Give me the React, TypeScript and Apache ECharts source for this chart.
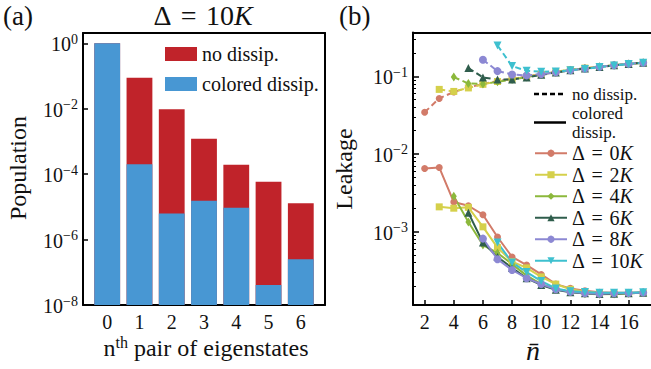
import React, { useEffect, useRef } from 'react';
import * as echarts from 'echarts';

const FONT = '"Liberation Serif", "Times New Roman", serif';
const INK = '#111';

// ---------- Panel (a): populations ----------
const pairIndex = [0, 1, 2, 3, 4, 5, 6];
const populationNoDissip = [1.0, 0.089, 0.0096, 0.0012, 0.000195, 0.000059, 0.000013];
const populationColoredDissip = [1.0, 0.0002, 0.0000063, 0.0000155, 0.0000094, 0.000000041, 0.00000025];
const pairTickValues = [0, 1, 2, 3, 4, 5, 6];
const popTickValues = [1, 1e-2, 1e-4, 1e-6, 1e-8];

// ---------- Panel (b): leakage ----------
const nBar = [2, 3, 4, 5, 6, 7, 8, 9, 10, 11, 12, 13, 14, 15, 16, 17];
const nTickValues = [2, 4, 6, 8, 10, 12, 14, 16];
const leakTickValues = [1e-3, 1e-2, 1e-1];
const leakMinorTickValues = [
  2e-4, 3e-4, 4e-4, 5e-4, 6e-4, 7e-4, 8e-4, 9e-4,
  2e-3, 3e-3, 4e-3, 5e-3, 6e-3, 7e-3, 8e-3, 9e-3,
  2e-2, 3e-2, 4e-2, 5e-2, 6e-2, 7e-2, 8e-2, 9e-2,
  2e-1, 3e-1,
];
const deltaValues = [0, 2, 4, 6, 8, 10];

// no dissipation (dashed)
const leakNoDissip0 = [0.0345, 0.052, 0.063, 0.072, 0.080, 0.087, 0.093, 0.100, 0.107, 0.114, 0.121, 0.127, 0.133, 0.139, 0.145, 0.150];
const leakNoDissip2 = [null, 0.068, 0.064, 0.071, 0.079, 0.086, 0.093, 0.099, 0.106, 0.115, 0.122, 0.128, 0.133, 0.139, 0.145, 0.150];
const leakNoDissip4 = [null, null, 0.098, 0.081, 0.080, 0.085, 0.091, 0.098, 0.106, 0.113, 0.120, 0.126, 0.133, 0.139, 0.145, 0.150];
const leakNoDissip6 = [null, null, null, 0.128, 0.097, 0.091, 0.091, 0.097, 0.105, 0.112, 0.120, 0.126, 0.132, 0.139, 0.145, 0.150];
const leakNoDissip8 = [null, null, null, null, 0.164, 0.117, 0.106, 0.103, 0.107, 0.113, 0.120, 0.126, 0.133, 0.139, 0.145, 0.150];
const leakNoDissip10 = [null, null, null, null, null, 0.25, 0.136, 0.118, 0.115, 0.116, 0.120, 0.125, 0.132, 0.138, 0.144, 0.150];

// colored dissipation (solid)
const leakColored0 = [0.0065, 0.0067, 0.0024, 0.00215, 0.00165, 0.00085, 0.00047, 0.00037, 0.00028, 0.00021, 0.000185, 0.000172, 0.000165, 0.000163, 0.000163, 0.000165];
const leakColored2 = [null, 0.00208, 0.0020, 0.00205, 0.00115, 0.00062, 0.00041, 0.00034, 0.00026, 0.00021, 0.00018, 0.000168, 0.000162, 0.00016, 0.00016, 0.000162];
const leakColored4 = [null, null, 0.00285, 0.00133, 0.00067, 0.00053, 0.00038, 0.00027, 0.00021, 0.00018, 0.000168, 0.000158, 0.000155, 0.000157, 0.00016, 0.000162];
const leakColored6 = [null, null, null, 0.00175, 0.00072, 0.00047, 0.00034, 0.00025, 0.000205, 0.000178, 0.000165, 0.00016, 0.000157, 0.000158, 0.00016, 0.000162];
const leakColored8 = [null, null, null, null, 0.00081, 0.00044, 0.00032, 0.00025, 0.00021, 0.00018, 0.000167, 0.00016, 0.000158, 0.00016, 0.000161, 0.000163];
const leakColored10 = [null, null, null, null, null, 0.00072, 0.00040, 0.00030, 0.00023, 0.000185, 0.00017, 0.000166, 0.000163, 0.000163, 0.000163, 0.000165];

const leakNoDissip = [leakNoDissip0, leakNoDissip2, leakNoDissip4, leakNoDissip6, leakNoDissip8, leakNoDissip10];
const leakColored = [leakColored0, leakColored2, leakColored4, leakColored6, leakColored8, leakColored10];

const RED = '#c0232a';
const BLUE = '#4897d3';
const deltaColors = ['#d27b69', '#d5d04b', '#8cb83c', '#2f5d4c', '#8c88d3', '#3ec0cf'];
const deltaSymbols = ['circle', 'rect', 'diamond', 'triangle', 'circle', 'triangle'];
const deltaSymbolRotate = [0, 0, 0, 0, 0, 180];
const deltaSymbolSize: any[] = [7, 7, [6, 9], 8, 8, 8];

const SP = '\u2004';
const supText = (e: number) => (e < 0 ? '\u2212' + -e : String(e));
const sciLabel = (v: number) => `{b|10}{s|${supText(Math.round(Math.log10(v)))}}`;
const sciRich = {
  b: { fontSize: 20, fontFamily: FONT, color: INK, lineHeight: 22, verticalAlign: 'bottom' },
  s: { fontSize: 14, fontFamily: FONT, color: INK, lineHeight: 10, verticalAlign: 'top' },
};

const deltaName = (d: number) => `Δ = ${d}K`;

const frameLine = { show: true, onZero: false, lineStyle: { color: '#000', width: 2 } };

export default function App() {
  const ref = useRef<HTMLDivElement>(null);

  useEffect(() => {
    const chart = echarts.init(ref.current!, null, { renderer: 'svg' });

    const barSeries = (name: string, values: number[], color: string, z: number) => ({
      type: 'custom',
      name,
      xAxisIndex: 0,
      yAxisIndex: 0,
      z,
      itemStyle: { color },
      data: pairIndex.map((x, i) => [x, values[i]]),
      renderItem: (params: any, api: any) => {
        const x = api.value(0);
        const y = api.value(1);
        const top = api.coord([x, y]);
        const base = api.coord([x, 1e-8]);
        const left = api.coord([x - 0.4, y]);
        const right = api.coord([x + 0.4, y]);
        return {
          type: 'rect',
          shape: { x: left[0], y: top[1], width: right[0] - left[0], height: base[1] - top[1] },
          style: { fill: color },
        };
      },
    });

    const lineSeries: any[] = [];
    deltaValues.forEach((d, k) => {
      const common = {
        type: 'line',
        name: deltaName(d),
        xAxisIndex: 2,
        yAxisIndex: 2,
        symbol: deltaSymbols[k],
        symbolSize: deltaSymbolSize[k],
        symbolRotate: deltaSymbolRotate[k],
        itemStyle: { color: deltaColors[k] },
        emphasis: { disabled: true },
        silent: true,
      };
      lineSeries.push({
        ...common,
        lineStyle: { color: deltaColors[k], width: 2, type: 'solid' },
        data: nBar.map((n, i) => [n, leakColored[k][i]]).filter((p) => p[1] != null),
      });
      lineSeries.push({
        ...common,
        lineStyle: { color: deltaColors[k], width: 2, type: [6, 3.5] },
        data: nBar.map((n, i) => [n, leakNoDissip[k][i]]).filter((p) => p[1] != null),
      });
    });

    const option: any = {
      animation: false,
      backgroundColor: '#fff',
      textStyle: { fontFamily: FONT },
      grid: [
        { left: 83, top: 33, width: 242, height: 272 },
        { left: 413, top: 32.5, width: 237.5, height: 272.5 },
      ],
      xAxis: [
        {
          type: 'value', gridIndex: 0, min: -0.75, max: 6.75, position: 'bottom',
          axisLine: frameLine,
          axisTick: { show: true, inside: true, length: 4, customValues: pairTickValues, lineStyle: { color: '#000', width: 1.5 } },
          axisLabel: { customValues: pairTickValues, margin: 7, fontSize: 20, fontFamily: FONT, color: INK },
          splitLine: { show: false },
        },
        {
          type: 'value', gridIndex: 0, min: -0.75, max: 6.75, position: 'top',
          axisLine: frameLine, axisTick: { show: false }, axisLabel: { show: false }, splitLine: { show: false },
        },
        {
          type: 'value', gridIndex: 1, min: 1.2, max: 17.5, position: 'bottom',
          axisLine: frameLine,
          axisTick: { show: true, inside: true, length: 5, customValues: nTickValues, lineStyle: { color: '#000', width: 1.5 } },
          axisLabel: { customValues: nTickValues, margin: 7, fontSize: 20, fontFamily: FONT, color: INK },
          splitLine: { show: false },
        },
        {
          type: 'value', gridIndex: 1, min: 1.2, max: 17.5, position: 'top',
          axisLine: frameLine, axisTick: { show: false }, axisLabel: { show: false }, splitLine: { show: false },
        },
      ],
      yAxis: [
        {
          type: 'log', logBase: 10, gridIndex: 0, min: 1e-8, max: 2.07, position: 'left',
          axisLine: frameLine,
          axisTick: { show: true, inside: true, length: 5, customValues: popTickValues, lineStyle: { color: '#000', width: 1.5 } },
          axisLabel: { customValues: popTickValues, margin: 5, formatter: sciLabel, rich: sciRich },
          splitLine: { show: false },
        },
        {
          type: 'log', logBase: 10, gridIndex: 0, min: 1e-8, max: 2.07, position: 'right',
          axisLine: frameLine, axisTick: { show: false }, axisLabel: { show: false }, splitLine: { show: false },
        },
        {
          type: 'log', logBase: 10, gridIndex: 1, min: 1.13e-4, max: 0.368, position: 'left',
          axisLine: frameLine,
          axisTick: { show: true, inside: true, length: 6, customValues: leakTickValues, lineStyle: { color: '#000', width: 1.5 } },
          axisLabel: { customValues: leakTickValues, margin: 5, formatter: sciLabel, rich: sciRich },
          splitLine: { show: false },
        },
        {
          type: 'log', logBase: 10, gridIndex: 1, min: 1.13e-4, max: 0.368, position: 'left',
          axisLine: { show: false },
          axisTick: { show: true, inside: true, length: 3, customValues: leakMinorTickValues, lineStyle: { color: '#000', width: 1 } },
          axisLabel: { show: false },
          splitLine: { show: false },
        },
      ],
      legend: [
        {
          orient: 'vertical', left: 165, top: 44, padding: 0, itemGap: 10,
          itemWidth: 32, itemHeight: 14, selectedMode: false,
          data: [
            { name: 'no dissip.', icon: 'rect' },
            { name: 'colored dissip.', icon: 'rect' },
          ],
          textStyle: { fontSize: 20, fontFamily: FONT, color: INK, lineHeight: 14 },
        },
        {
          orient: 'vertical', left: 534, top: 142.5, padding: 0, itemGap: 0,
          itemWidth: 32, itemHeight: 9, selectedMode: false,
          data: deltaValues.map(deltaName),
          formatter: (name: string) => name.replace(/ = /, SP + '=' + SP).replace(/K$/, '{i|K}'),
          textStyle: {
            fontSize: 20, fontFamily: FONT, color: INK, lineHeight: 21.5,
            rich: { i: { fontSize: 20, fontFamily: FONT, fontStyle: 'italic', color: INK, lineHeight: 21.5 } },
          },
        },
      ],
      graphic: [
        { type: 'text', left: 3, top: 2, style: { text: '(a)', fontSize: 27, fontFamily: FONT, fill: INK } },
        { type: 'text', left: 339, top: 2, style: { text: '(b)', fontSize: 27, fontFamily: FONT, fill: INK } },
        {
          type: 'text', x: 203, y: 15,
          style: {
            text: `{r|Δ${SP}=${SP}10}{i|K}`, align: 'center', verticalAlign: 'middle',
            rich: {
              r: { fontSize: 28, fontFamily: FONT, fill: INK },
              i: { fontSize: 28, fontFamily: FONT, fontStyle: 'italic', fill: INK },
            },
          },
        },
        {
          type: 'text', x: 18, y: 168, rotation: Math.PI / 2,
          style: { text: 'Population', fontSize: 24, fontFamily: FONT, fill: INK, align: 'center', verticalAlign: 'middle' },
        },
        {
          type: 'text', x: 206, y: 347,
          style: {
            text: '{n|n}{s|th}{n| pair of eigenstates}', align: 'center', verticalAlign: 'middle',
            rich: {
              n: { fontSize: 24, fontFamily: FONT, fill: INK, lineHeight: 26, verticalAlign: 'bottom' },
              s: { fontSize: 16, fontFamily: FONT, fill: INK, lineHeight: 14, verticalAlign: 'top' },
            },
          },
        },
        {
          type: 'text', x: 344, y: 169, rotation: Math.PI / 2,
          style: { text: 'Leakage', fontSize: 24, fontFamily: FONT, fill: INK, align: 'center', verticalAlign: 'middle' },
        },
        {
          type: 'text', x: 533, y: 350,
          style: { text: 'n\u0304', fontSize: 28, fontFamily: FONT, fontStyle: 'italic', fill: INK, align: 'center', verticalAlign: 'middle' },
        },
        {
          type: 'line', shape: { x1: 534, y1: 94, x2: 566, y2: 94 },
          style: { stroke: '#000', lineWidth: 2.5, lineDash: [5, 3] },
        },
        {
          type: 'text', x: 572, y: 94,
          style: { text: 'no dissip.', fontSize: 17, lineHeight: 17, fontFamily: FONT, fill: INK, align: 'left', verticalAlign: 'middle' },
        },
        {
          type: 'line', shape: { x1: 534, y1: 122.5, x2: 566, y2: 122.5 },
          style: { stroke: '#000', lineWidth: 2.5 },
        },
        {
          type: 'text', x: 572, y: 113,
          style: { text: 'colored', fontSize: 17, lineHeight: 17, fontFamily: FONT, fill: INK, align: 'left', verticalAlign: 'middle' },
        },
        {
          type: 'text', x: 572, y: 132,
          style: { text: 'dissip.', fontSize: 17, lineHeight: 17, fontFamily: FONT, fill: INK, align: 'left', verticalAlign: 'middle' },
        },
      ],
      series: [
        barSeries('no dissip.', populationNoDissip, RED, 2),
        barSeries('colored dissip.', populationColoredDissip, BLUE, 3),
        ...lineSeries,
      ],
    };

    chart.setOption(option);
    return () => chart.dispose();
  }, []);

  return (
    <div
      ref={ref}
      style={{ position: 'absolute', left: 0, top: 0, width: 651, height: 369, background: '#fff' }}
    />
  );
}
